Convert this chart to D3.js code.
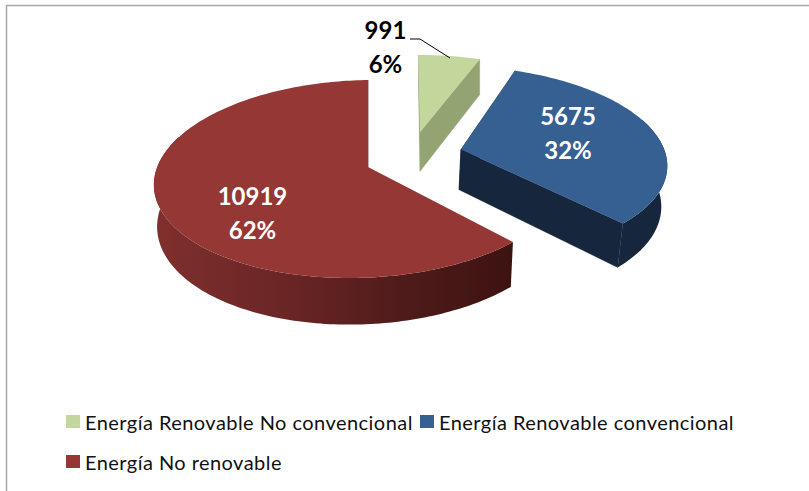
<!DOCTYPE html>
<html><head><meta charset="utf-8">
<script src="https://cdn.jsdelivr.net/npm/d3@7"></script>
<style>html,body{margin:0;background:#fff}svg{display:block}text{font-family:Lato,sans-serif}</style>
</head><body><svg id="c" width="809" height="491"></svg>
<script>
const categories = ["Energía Renovable No convencional","Energía Renovable convencional","Energía No renovable"];
const values = [991,5675,10919];
const percents = ["6%","32%","62%"];
const topColors = ["#c3d69b","#376092","#953735"];
const wallColors = ["#94a372","#16263c","#5a201f"];
const explodeU = [0.258,0.45,0];
const explodeV = [-0.375,-0.183,0];
const rimShift = [0.02,0,0];
const rimScaleU = [0.96,0.985,0.975];
const rimScaleV = [0.96,1,1];
const rimShear = [0,0,-0.025];
const rimTilt = [0,0,-0.03];
const wallShrink = [1,0.98,0.985];
const labelPos = [[385.5,39,"#000"],[568,125,"#fff"],[252.5,205,"#fff"]];

const svg = d3.select("#c");
const cx=368, cy=167, Rx=211, Ry=97.5, k=0.121, depth=41;
const project=(u,v,dz=0,shrink=1)=>{const w=1-k*v; return [cx+(Rx*u/w)*(dz?shrink:1), cy+Ry*v/w+dz/w];};
const line=d3.line();
const arcs=d3.pie().sort(null).value(d=>d)(values);

const defs=svg.append("defs");
const grad=defs.append("linearGradient").attr("id","redWall").attr("gradientUnits","userSpaceOnUse")
  .attr("x1",156).attr("x2",516).attr("y1",0).attr("y2",0);
[[0,"#7f2f2e"],[0.35,"#6a2625"],[0.7,"#4e1b1a"],[1,"#3c1210"]].forEach(s=>grad.append("stop").attr("offset",s[0]).attr("stop-color",s[1]));

// frame
svg.append("path").attr("d","M6.5,491V5.5H809").attr("fill","none").attr("stroke","#a6a6a6").attr("stroke-width",1.5);

arcs.forEach((a,i)=>{
  const eu=explodeU[i], ev=explodeV[i], sh=wallShrink[i];
  const n=Math.ceil((a.endAngle-a.startAngle)/0.02);
  const angs=d3.range(n+1).map(j=>a.startAngle+(a.endAngle-a.startAngle)*j/n);
  const rim=angs.map(t=>[
    eu+rimShift[i]+rimScaleU[i]*Math.sin(t)+rimShear[i]*(1-Math.cos(t)),
    ev-rimScaleV[i]*Math.cos(t)+rimTilt[i]*Math.sin(t)
  ]);
  const apex=[eu,ev];
  const fill=i===2?"url(#redWall)":wallColors[i];
  // cut faces
  [rim[0],rim[rim.length-1]].forEach((p,e)=>{
    if(i===2&&e===0) return;
    const poly=[project(...apex),project(p[0],p[1]),project(p[0],p[1],depth,sh),project(apex[0],apex[1],depth,sh)];
    svg.append("path").attr("d",line(poly)+"Z").attr("fill",wallColors[i]).attr("stroke",wallColors[i]).attr("stroke-width",0.4);
  });
  // outer wall: only the part of the rim that faces the viewer
  const front=rim.filter((p,j)=>Math.cos(angs[j])<0.35);
  if(front.length>1){
    const poly=front.map(p=>project(p[0],p[1])).concat(front.slice().reverse().map(p=>project(p[0],p[1],depth,sh)));
    svg.append("path").attr("d",line(poly)+"Z").attr("fill",fill);
  }
  // top surface
  const top=[apex].concat(rim).map(p=>project(p[0],p[1]));
  svg.append("path").attr("d",line(top)+"Z").attr("fill",topColors[i]);
});

// leader line
svg.append("path").attr("d",line([[410,39],[420,39],[450,58]])).attr("fill","none").attr("stroke","#000").attr("stroke-width",1);

// labels
values.forEach((v,i)=>{
  const p=labelPos[i];
  const t=svg.append("text").attr("text-anchor","middle").attr("font-weight",700).attr("font-size",24).attr("fill",p[2]);
  t.append("tspan").attr("x",p[0]).attr("y",p[1]).text(v);
  t.append("tspan").attr("x",p[0]).attr("y",p[1]+33.5).text(percents[i]);
});

// legend
const legendPos=[[66,415],[420,415],[66,455]];
categories.forEach((c,i)=>{
  const p=legendPos[i];
  svg.append("rect").attr("x",p[0]).attr("y",p[1]).attr("width",14).attr("height",13).attr("fill",topColors[i]);
  svg.append("text").attr("x",p[0]+19).attr("y",p[1]+15).attr("font-size",20).attr("letter-spacing",0.45).attr("fill","#111").text(c);
});
</script></body></html>
